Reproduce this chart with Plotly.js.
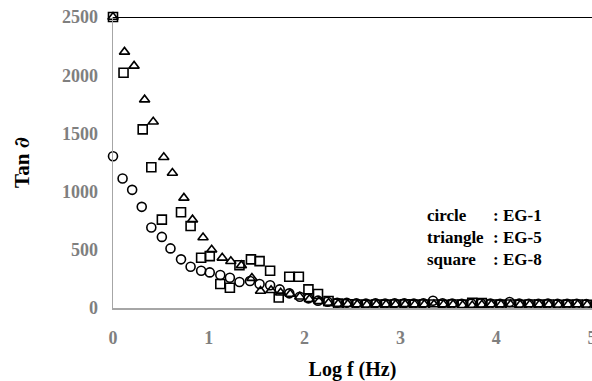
<!DOCTYPE html>
<html>
<head>
<meta charset="utf-8">
<script src="https://cdn.plot.ly/plotly-3.0.1.min.js"></script>
<style>html,body{margin:0;padding:0;background:#fff;}#chart{width:592px;height:381px;}</style>
</head>
<body>
<div id="chart"></div>
<script>
// EG-1 (circle)
const xCircle = [0,0.1,0.2,0.3,0.4,0.51,0.6,0.71,0.81,0.92,1.01,1.12,1.22,1.32,1.43,1.53,1.64,1.74,1.84,1.95,2.04,2.14,2.24,2.34,2.44,
  2.54,2.64,2.74,2.84,2.94,3.04,3.14,3.24,3.34,3.44,3.54,3.64,3.74,3.84,3.94,4.04,4.14,4.24,4.34,4.44,4.54,4.64,4.74,4.84,4.94];
const yCircle = [1304,1112,1015,869,692,611,512,418,354,320,306,283,260,223,232,206,195,160,126,97,83,63,54,45,45,
  40,38,40,39,40,41,38,40,62,40,38,36,38,40,38,37,52,38,36,37,38,36,37,36,35];
// EG-5 (triangle)
const xTriangle = [0,0.12,0.22,0.33,0.42,0.53,0.62,0.74,0.83,0.94,1.03,1.14,1.23,1.34,1.45,1.54,1.65,1.75,1.85,1.95,2.05,2.15,2.25,2.35,2.45,
  2.55,2.65,2.75,2.85,2.95,3.05,3.15,3.25,3.35,3.45,3.55,3.65,3.75,3.85,3.95,4.05,4.15,4.25,4.35,4.45,4.55,4.65,4.75,4.85,4.95];
const yTriangle = [2500,2200,2080,1790,1600,1295,1160,946,759,606,500,431,401,366,257,146,153,131,120,97,75,58,42,35,32,
  30,28,30,29,30,31,29,30,30,29,30,24,22,28,30,29,30,28,30,29,30,28,29,30,28];
// EG-8 (square)
const xSquare = [0,0.11,0.31,0.4,0.51,0.71,0.81,0.92,1.01,1.12,1.22,1.32,1.44,1.53,1.64,1.73,1.84,1.94,2.04,2.14,2.25,2.35,2.45,
  2.55,2.65,2.75,2.85,2.95,3.05,3.15,3.25,3.35,3.45,3.55,3.65,3.75,3.85,3.95,4.05,4.15,4.25,4.35,4.45,4.55,4.65,4.75,4.85,4.95];
const ySquare = [2500,2021,1535,1209,759,822,705,432,446,206,174,367,418,403,320,90,268,268,160,120,60,38,32,
  30,28,30,29,30,31,29,30,30,28,30,29,44,42,30,29,30,28,30,29,30,28,29,30,28];

const xTicks = [0,1,2,3,4,5];
const yTicks = [0,500,1000,1500,2000,2500];
const legendNames = ['circle','triangle','square'];
const legendSeries = [': EG-1',': EG-5',': EG-8'];

const mk = (sym) => ({symbol: sym, size: 9, color: '#000', line: {color: '#000', width: 1.6}});
const traces = [
  {x: xCircle, y: yCircle, type: 'scatter', mode: 'markers', name: 'EG-1', marker: mk('circle-open'), cliponaxis: false},
  {x: xTriangle, y: yTriangle, type: 'scatter', mode: 'markers', name: 'EG-5', marker: mk('triangle-up-open'), cliponaxis: false},
  {x: xSquare, y: ySquare, type: 'scatter', mode: 'markers', name: 'EG-8', marker: mk('square-open'), cliponaxis: false}
];

const serif = '"Liberation Serif", "Times New Roman", serif';
const tickFont = {family: serif, size: 18, color: '#7f7f7f', weight: 'bold'};
const titleFont = {family: serif, size: 20, color: '#000', weight: 'bold'};
const legFont = {family: serif, size: 17, color: '#000', weight: 'bold'};

const layout = {
  width: 592, height: 381,
  margin: {l: 113, r: 0, t: 17, b: 73, pad: 0},
  paper_bgcolor: '#fff', plot_bgcolor: '#fff',
  showlegend: false,
  xaxis: {
    range: [0, 5], tickvals: xTicks, ticktext: xTicks.map(String),
    showgrid: false, zeroline: false, showline: true, linecolor: '#a6a6a6', linewidth: 1.5,
    ticks: '', tickfont: tickFont, ticklabelstandoff: 13, ticklabeloverflow: 'allow',
    title: {text: 'Log f (Hz)', font: titleFont}
  },
  yaxis: {
    range: [0, 2500], tickvals: yTicks, ticktext: yTicks.map(String),
    showgrid: false, zeroline: false, showline: true, linecolor: '#a6a6a6', linewidth: 1.5,
    ticks: '', tickfont: tickFont, ticklabelstandoff: 10, automargin: true,
    title: {text: 'Tan\u00a0<span style="font-family:\'DejaVu Serif\'"><b><i>∂</i></b></span>', font: {...titleFont, size: 21}, standoff: 26}
  },
  shapes: [{type: 'line', xref: 'paper', x0: 0, x1: 1, yref: 'y', y0: 2500, y1: 2500, line: {color: '#000', width: 2.2}}],
  annotations: [
    {xref: 'paper', yref: 'paper', x: 0.652, y: 0.359, xanchor: 'left', yanchor: 'top', align: 'left', showarrow: false,
     text: legendNames.join('<br>'), font: legFont},
    {xref: 'paper', yref: 'paper', x: 0.79, y: 0.359, xanchor: 'left', yanchor: 'top', align: 'left', showarrow: false,
     text: legendSeries.join('<br>'), font: legFont}
  ]
};

Plotly.newPlot('chart', traces, layout, {displayModeBar: false, staticPlot: true});
</script>
</body>
</html>
